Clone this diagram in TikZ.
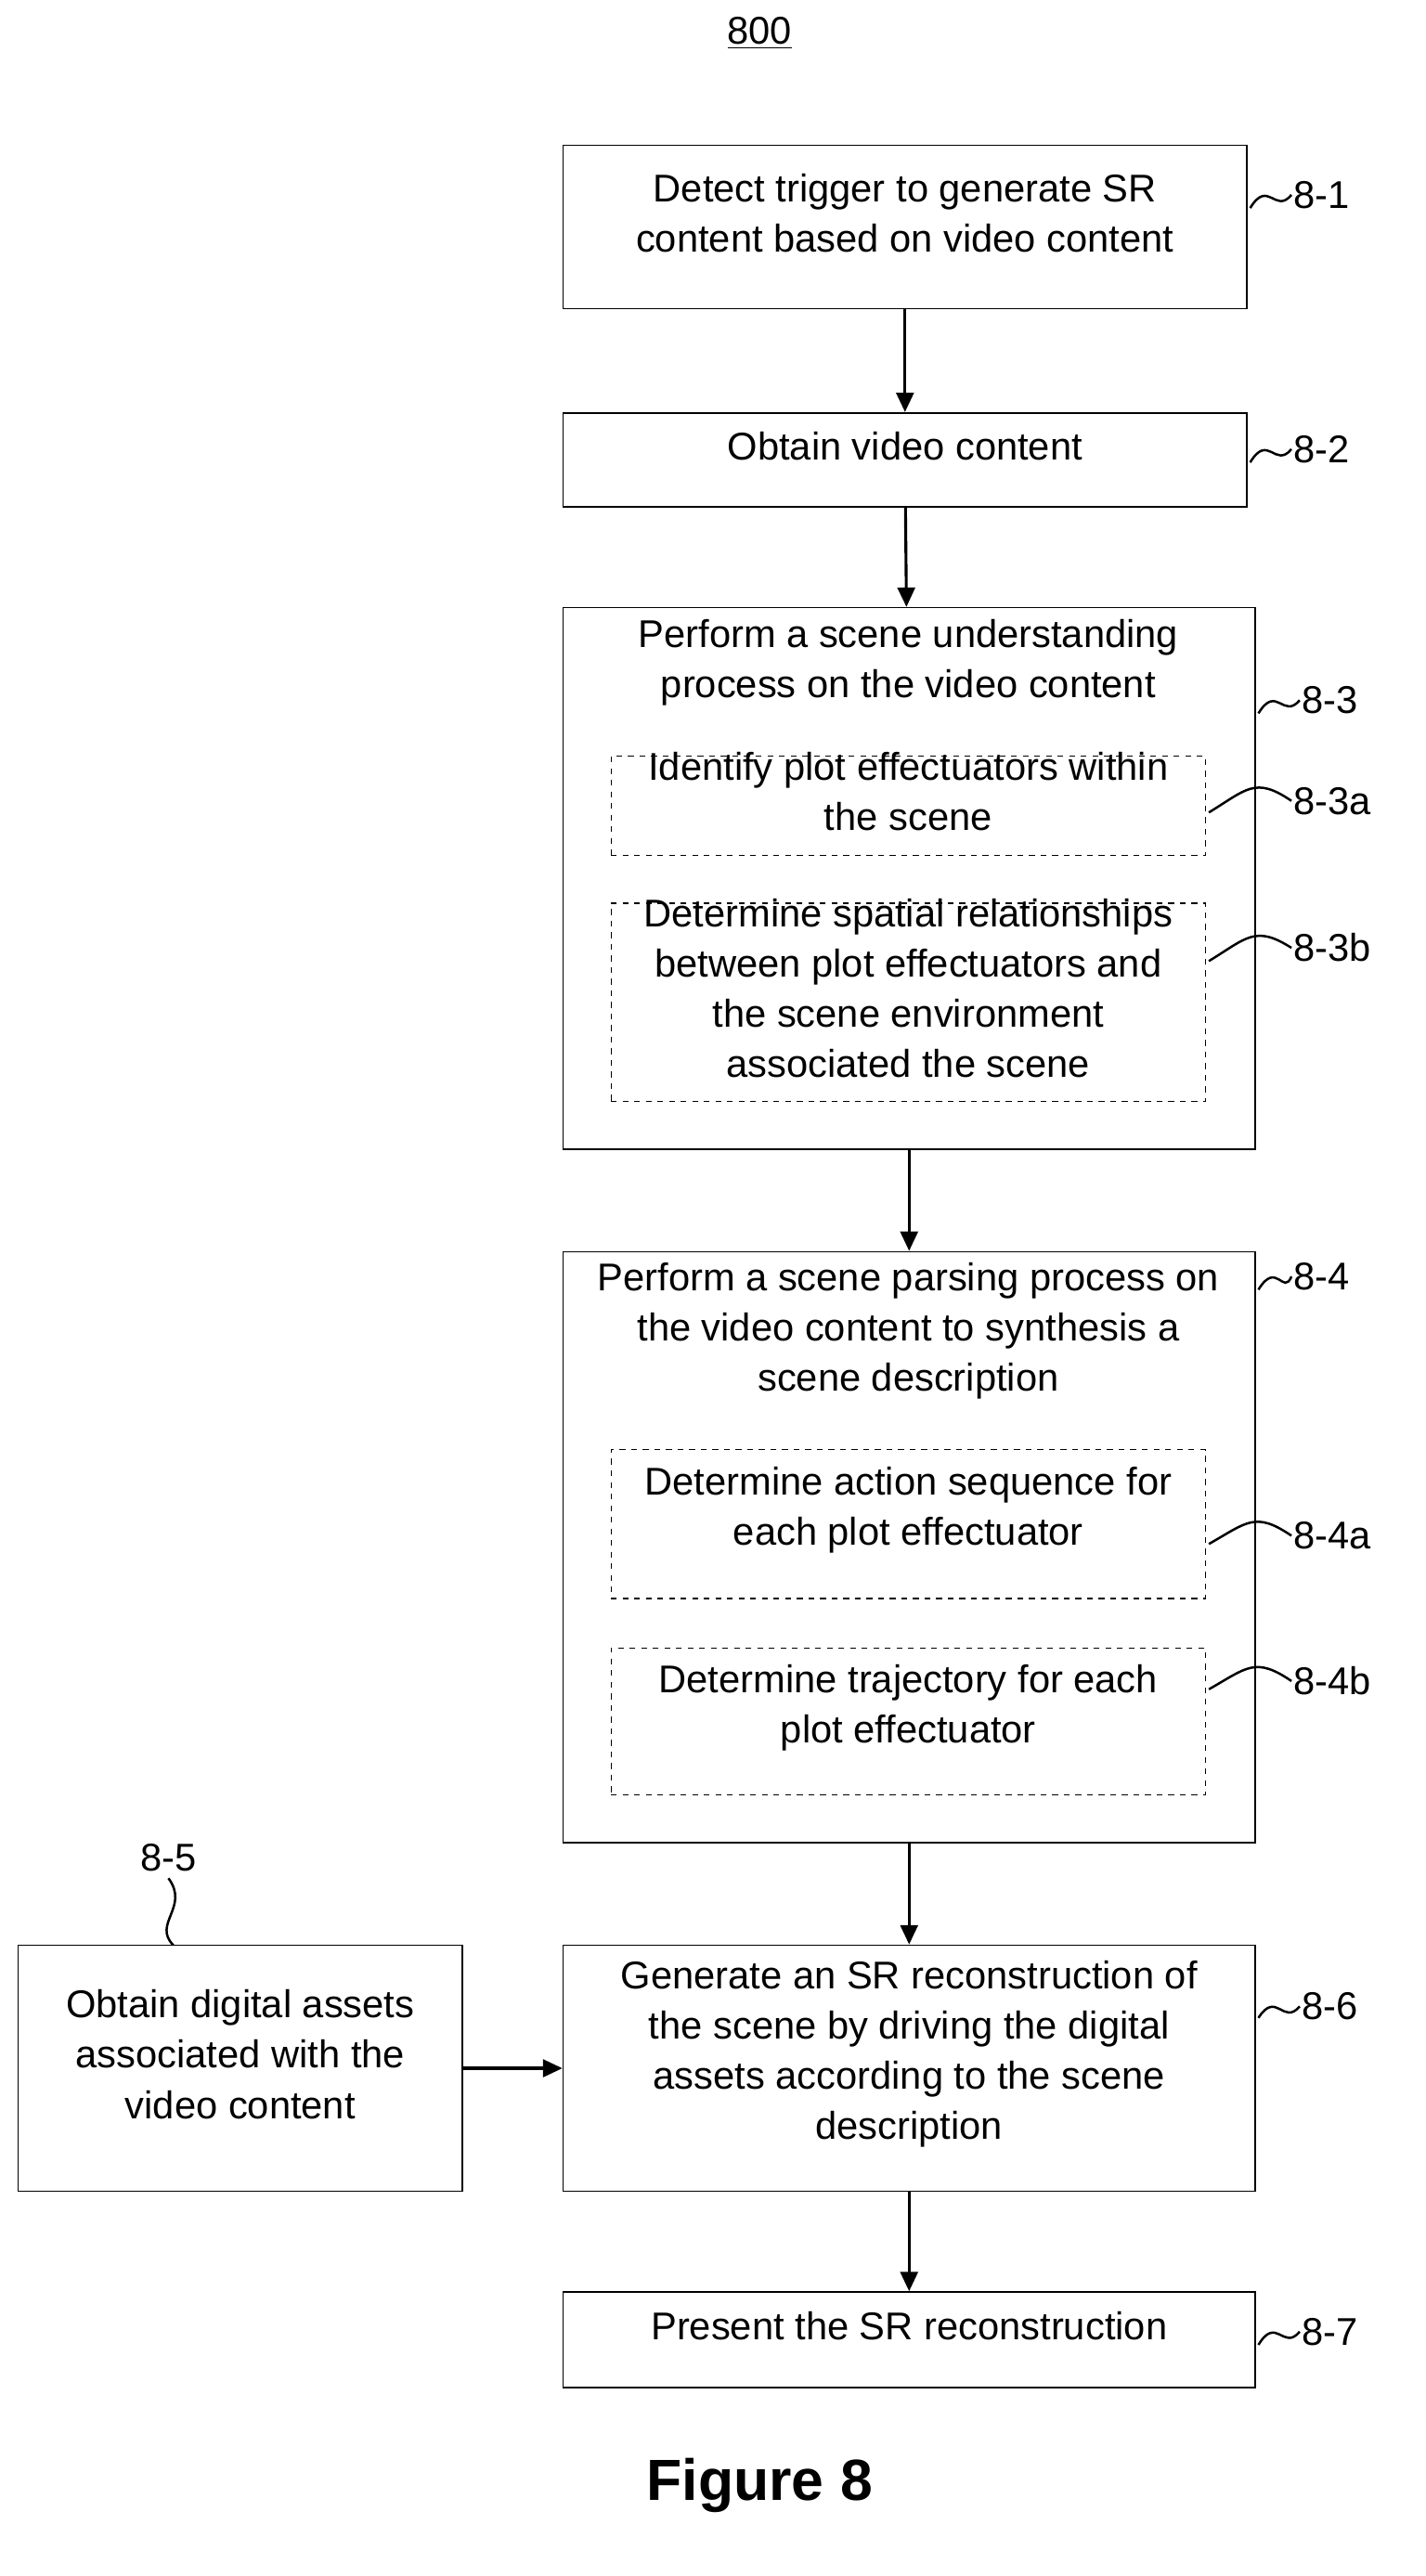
\documentclass[tikz,border=0pt]{standalone}
\usepackage{fontspec}
\setmainfont{Liberation Sans}
\usetikzlibrary{fit,arrows.meta}
\begin{document}
\begin{tikzpicture}[x=0.03cm,y=-0.03cm,
 box/.style={draw,line width=0.8pt,inner sep=0pt,align=center,font=\fontsize{20}{26}\selectfont},
 dbox/.style={draw,dashed,line width=0.6pt,inner sep=0pt,align=center,font=\fontsize{20}{26}\selectfont},
 txt/.style={align=center,font=\fontsize{20}{26}\selectfont},
 lab/.style={anchor=west,inner sep=1pt,font=\fontsize{20}{26}\selectfont},
 sq/.style={line width=1.2pt},
 arr/.style={line width=1.5pt,-{Triangle[length=10pt,width=9pt]}}]
\useasboundingbox (0,0) rectangle (863,1560);
\node[font=\fontsize{20}{24}\selectfont] (t) at (460,20) {\underline{800}};
\node[box,fit={(341,88)(755,187)}] (n1) {Detect trigger to generate SR\\content based on video content};
\node[box,fit={(341,250)(755,307)}] (n2) {Obtain video content};
\node[box,fit={(341,368)(760,696)}] (n3) {};
\node[txt] (n3t) at (550,401) {Perform a scene understanding\\process on the video content};
\node[dbox,fit={(370,458)(730,518)}] (n3a) {Identify plot effectuators within\\the scene};
\node[dbox,fit={(370,547)(730,667)}] (n3b) {Determine spatial relationships\\between plot effectuators and\\the scene environment\\associated the scene};
\node[box,fit={(341,758)(760,1116)}] (n4) {};
\node[txt] (n4t) at (550,806) {Perform a scene parsing process on\\the video content to synthesis a\\scene description};
\node[dbox,fit={(370,878)(730,968)}] (n4a) {Determine action sequence for\\each plot effectuator};
\node[dbox,fit={(370,998)(730,1087)}] (n4b) {Determine trajectory for each\\plot effectuator};
\node[box,fit={(11,1178)(280,1327)}] (n5) {Obtain digital assets\\associated with the\\video content};
\node[box,fit={(341,1178)(760,1327)}] (n6) {Generate an SR reconstruction of\\the scene by driving the digital\\assets according to the scene\\description};
\node[box,fit={(341,1388)(760,1446)}] (n7) {Present the SR reconstruction};
\node[font=\bfseries\fontsize{30}{36}\selectfont] (fig) at (460,1505) {Figure 8};
\draw[arr] (n1) -- (n2);
\draw[arr] (n2) -- (n3);
\draw[arr] (n3) -- (n4);
\draw[arr] (n4) -- (n6);
\draw[arr] (n5) -- (n6);
\draw[arr] (n6) -- (n7);
% labels
\node[lab] (l1) at (782,118) {8-1};
\draw[sq] (757,126) .. controls (768,108) and (772,130) .. (l1.west);
\node[lab] (l2) at (782,272) {8-2};
\draw[sq] (757,280) .. controls (768,262) and (772,284) .. (l2.west);
\node[lab] (l3) at (787,424) {8-3};
\draw[sq] (762,432) .. controls (773,414) and (777,436) .. (l3.west);
\node[lab] (l3a) at (782,485) {8-3a};
\draw[sq] (732,492) .. controls (755,478) and (760,470) .. (l3a.west);
\node[lab] (l3b) at (782,574) {8-3b};
\draw[sq] (732,582) .. controls (755,568) and (760,560) .. (l3b.west);
\node[lab] (l4) at (782,773) {8-4};
\draw[sq] (762,781) .. controls (773,763) and (777,785) .. (l4.west);
\node[lab] (l4a) at (782,930) {8-4a};
\draw[sq] (732,935) .. controls (755,922) and (760,915) .. (l4a.west);
\node[lab] (l4b) at (782,1018) {8-4b};
\draw[sq] (732,1023) .. controls (755,1010) and (760,1003) .. (l4b.west);
\node[lab] (l6) at (787,1215) {8-6};
\draw[sq] (762,1222) .. controls (773,1205) and (777,1227) .. (l6.west);
\node[lab] (l7) at (787,1412) {8-7};
\draw[sq] (762,1420) .. controls (773,1402) and (777,1424) .. (l7.west);
\node[font=\fontsize{20}{26}\selectfont] (l5) at (102,1125) {8-5};
\draw[sq] (105,1178) .. controls (92,1165) and (115,1155) .. (l5.south);
\end{tikzpicture}
\end{document}
